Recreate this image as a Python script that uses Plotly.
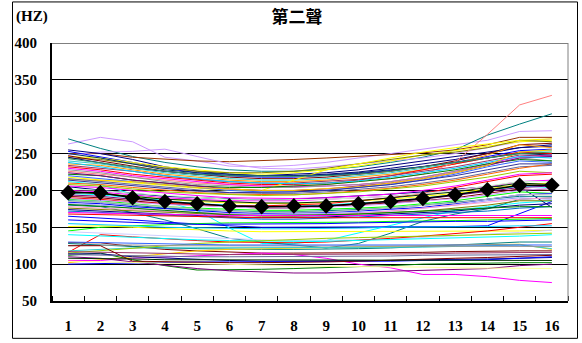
import plotly.graph_objects as go

# Syllable positions (normalised time points) along the tone contour
points = list(range(1, 17))
tick_labels = [str(p) for p in points]

# Mean F0 contour of the second tone (Hz)
mean_f0 = [197, 197, 190, 185, 182, 179, 178, 179, 179, 182, 185, 189, 194, 201, 207, 207]

# Individual speakers, high-pitched voices (Hz)
high_voices = [
    [263, 272, 266, 245, 240, 233, 232, 234, 238, 244, 250, 256, 262, 268, 280, 281],
    [270, 257, 246, 238, 232, 228, 226, 226, 228, 232, 238, 245, 255, 275, 290, 304],
    [250, 250, 245, 242, 240, 239, 240, 242, 244, 246, 248, 251, 255, 262, 272, 272],
    [248, 252, 253, 256, 246, 236, 230, 229, 232, 236, 240, 244, 250, 258, 266, 270],
    [255, 250, 242, 232, 226, 222, 220, 220, 222, 225, 230, 236, 242, 250, 258, 262],
    [253, 246, 238, 230, 224, 220, 218, 218, 220, 223, 227, 232, 238, 246, 254, 256],
    [246, 244, 238, 232, 228, 224, 222, 224, 228, 233, 240, 248, 254, 260, 266, 268],
    [244, 242, 236, 230, 226, 224, 224, 226, 230, 236, 242, 248, 252, 258, 268, 266],
    [247, 240, 232, 226, 222, 218, 216, 216, 218, 222, 226, 232, 240, 250, 262, 264],
    [245, 238, 230, 226, 222, 220, 220, 222, 224, 228, 234, 240, 246, 252, 258, 260],
    [240, 236, 230, 224, 220, 216, 214, 214, 216, 220, 224, 230, 236, 244, 252, 254],
    [236, 234, 228, 222, 218, 214, 212, 212, 214, 218, 222, 228, 236, 248, 262, 258],
    [232, 228, 222, 218, 214, 210, 208, 208, 210, 214, 220, 228, 236, 244, 252, 250],
    [226, 222, 218, 214, 210, 208, 206, 206, 208, 212, 216, 222, 238, 276, 316, 329],
    [230, 226, 220, 216, 212, 208, 206, 205, 206, 208, 212, 218, 226, 236, 246, 248],
    [218, 214, 210, 206, 203, 200, 200, 214, 228, 236, 244, 252, 258, 263, 268, 270],
    [234, 230, 226, 220, 215, 212, 210, 210, 212, 215, 220, 226, 232, 240, 248, 246],
    [228, 224, 218, 212, 208, 206, 204, 204, 206, 208, 212, 218, 226, 234, 244, 240],
    [222, 220, 214, 210, 206, 204, 204, 206, 208, 212, 216, 222, 228, 236, 242, 240],
    [224, 220, 214, 210, 206, 202, 200, 200, 202, 206, 210, 216, 224, 234, 244, 246],
    [238, 232, 226, 220, 216, 212, 210, 209, 210, 213, 218, 224, 230, 238, 246, 244],
    [220, 216, 212, 208, 204, 200, 198, 198, 200, 204, 208, 214, 222, 232, 240, 238],
    [215, 214, 212, 208, 204, 202, 200, 200, 202, 205, 210, 216, 224, 234, 252, 255],
    [250, 244, 236, 228, 224, 222, 220, 220, 221, 224, 228, 232, 238, 244, 250, 248],
    [243, 238, 232, 226, 222, 220, 219, 219, 220, 222, 226, 232, 238, 244, 250, 252],
    [212, 208, 195, 185, 173, 149, 128, 128, 132, 142, 152, 163, 173, 178, 183, 186],
    [216, 212, 208, 204, 200, 197, 196, 196, 198, 201, 205, 210, 216, 224, 232, 234],
    [210, 208, 204, 200, 197, 195, 194, 194, 196, 199, 203, 208, 214, 222, 230, 236],
    [208, 206, 202, 198, 196, 194, 193, 194, 196, 198, 202, 206, 212, 218, 226, 224],
    [214, 210, 206, 202, 199, 197, 197, 198, 200, 204, 208, 214, 220, 228, 236, 236],
]
high_colors = [
    "#CC99FF", "#008080", "#993300", "#CC99FF", "#000080", "#0000FF", "#FFFF00", "#808000",
    "#800000", "#000080", "#33CCCC", "#FF9900", "#FF0000", "#FF8080", "#FF00FF", "#FFFF00",
    "#993366", "#969696", "#008000", "#800080", "#00CCFF", "#3366FF", "#FFCC00", "#003366",
    "#339966", "#00FFFF", "#666699", "#FF6600", "#99CC00", "#333399",
]

# Individual speakers, mid-range voices (Hz)
mid_voices = [
    [180, 178, 170, 160, 148, 135, 130, 126, 122, 128, 142, 158, 168, 175, 188, 190],
    [165, 163, 160, 157, 154, 152, 150, 150, 150, 150, 150, 150, 151, 152, 169, 185],
    [205, 200, 196, 192, 190, 188, 187, 188, 190, 192, 195, 198, 202, 205, 205, 177],
    [200, 198, 194, 190, 188, 186, 186, 186, 188, 190, 192, 196, 200, 205, 212, 214],
    [198, 196, 192, 188, 185, 183, 182, 182, 184, 186, 188, 192, 196, 202, 208, 210],
    [196, 194, 190, 186, 182, 180, 178, 178, 180, 182, 185, 189, 194, 200, 206, 204],
    [194, 192, 188, 184, 181, 179, 178, 178, 179, 181, 184, 188, 193, 198, 204, 206],
    [192, 190, 186, 182, 180, 178, 176, 176, 178, 180, 183, 186, 190, 196, 202, 200],
    [190, 188, 184, 182, 180, 179, 179, 180, 182, 186, 190, 196, 204, 212, 220, 222],
    [188, 186, 182, 178, 176, 174, 173, 173, 174, 176, 178, 182, 186, 192, 198, 196],
    [186, 184, 180, 176, 174, 172, 171, 171, 172, 174, 176, 180, 184, 188, 192, 192],
    [184, 182, 178, 175, 172, 170, 169, 169, 170, 172, 174, 177, 182, 188, 194, 196],
    [182, 180, 176, 172, 170, 168, 167, 167, 168, 170, 172, 176, 180, 186, 190, 188],
    [178, 176, 174, 172, 170, 168, 166, 166, 167, 169, 172, 176, 180, 184, 188, 190],
    [176, 174, 172, 170, 168, 166, 165, 165, 166, 168, 170, 172, 176, 180, 186, 186],
    [174, 172, 170, 168, 166, 164, 163, 163, 164, 166, 168, 170, 172, 176, 180, 182],
    [172, 170, 168, 166, 164, 162, 161, 161, 162, 164, 166, 168, 170, 172, 176, 178],
    [185, 184, 181, 178, 175, 172, 170, 170, 171, 173, 176, 179, 183, 188, 194, 195],
    [181, 178, 176, 173, 170, 167, 166, 166, 167, 168, 170, 172, 174, 176, 178, 178],
    [170, 169, 168, 167, 166, 166, 166, 166, 166, 166, 166, 166, 166, 166, 166, 166],
    [168, 167, 166, 165, 164, 163, 163, 163, 163, 163, 163, 163, 163, 163, 163, 163],
    [202, 200, 196, 193, 190, 188, 187, 187, 188, 190, 192, 196, 200, 206, 212, 212],
    [199, 196, 192, 188, 186, 184, 183, 183, 184, 186, 190, 194, 198, 204, 210, 208],
    [206, 204, 200, 196, 193, 190, 189, 189, 190, 192, 195, 200, 206, 214, 222, 224],
    [189, 187, 184, 181, 179, 177, 176, 176, 177, 179, 182, 185, 189, 194, 200, 203],
]
mid_colors = [
    "#008080", "#0000FF", "#000080", "#FF00FF", "#FFFF00", "#00FFFF", "#800080", "#800000",
    "#FF0000", "#00FF00", "#008080", "#0000FF", "#9999FF", "#FF99CC", "#808000", "#000080",
    "#0066CC", "#C0C0C0", "#008000", "#FF00FF", "#FF0000", "#CCFFCC", "#003300", "#FF00FF",
    "#CC99FF",
]

# Individual speakers, low-pitched voices (Hz)
low_voices = [
    [145, 150, 152, 154, 155, 156, 156, 157, 157, 157, 158, 158, 159, 160, 161, 162],
    [151, 152, 150, 148, 146, 145, 144, 144, 144, 144, 144, 144, 144, 145, 145, 146],
    [144, 142, 140, 138, 136, 134, 133, 132, 132, 133, 134, 136, 138, 140, 143, 146],
    [116, 140, 137, 134, 132, 130, 129, 129, 130, 132, 135, 138, 141, 145, 150, 155],
    [129, 129, 124, 120, 118, 116, 115, 115, 115, 115, 116, 116, 117, 118, 118, 118],
    [128, 126, 124, 122, 121, 120, 120, 120, 120, 121, 122, 124, 126, 128, 130, 130],
    [140, 138, 136, 134, 133, 132, 131, 131, 131, 132, 133, 134, 135, 136, 138, 140],
    [102, 106, 110, 114, 118, 120, 121, 122, 122, 123, 124, 125, 126, 127, 127, 120],
    [118, 120, 122, 122, 122, 122, 122, 122, 122, 122, 122, 123, 124, 125, 126, 121],
    [115, 118, 122, 125, 128, 130, 132, 134, 135, 136, 137, 138, 139, 140, 141, 142],
    [105, 105, 108, 110, 112, 113, 115, 113, 108, 100, 95, 86, 86, 83, 78, 75],
    [112, 115, 106, 98, 92, 92, 93, 94, 95, 96, 98, 100, 101, 101, 102, 102],
    [110, 108, 103, 98, 94, 91, 89, 88, 88, 89, 90, 91, 93, 94, 98, 100],
    [114, 114, 110, 108, 106, 105, 104, 104, 104, 105, 105, 106, 106, 107, 108, 109],
    [100, 101, 102, 102, 103, 103, 103, 103, 104, 104, 104, 105, 105, 106, 108, 110],
    [117, 116, 115, 114, 113, 113, 113, 113, 113, 113, 114, 114, 115, 115, 116, 116],
    [113, 112, 111, 110, 110, 110, 110, 110, 111, 111, 111, 112, 112, 113, 113, 113],
    [104, 103, 102, 101, 100, 99, 98, 98, 97, 97, 96, 96, 95, 95, 94, 94],
    [125, 126, 126, 125, 125, 124, 124, 124, 124, 124, 124, 124, 124, 124, 124, 124],
    [130, 129, 128, 127, 127, 126, 126, 126, 126, 126, 126, 126, 126, 126, 126, 126],
    [125, 125, 104, 103, 102, 102, 102, 102, 103, 104, 105, 107, 108, 109, 110, 112],
    [108, 108, 107, 106, 106, 105, 105, 105, 105, 105, 105, 105, 105, 105, 105, 105],
    [155, 154, 152, 150, 149, 148, 148, 148, 148, 149, 150, 150, 151, 151, 152, 152],
    [160, 158, 156, 155, 154, 154, 154, 155, 155, 156, 157, 158, 158, 158, 159, 160],
]
low_colors = [
    "#00FF00", "#FFFF00", "#CCCCFF", "#FF0000", "#800000", "#008080", "#00FFFF", "#FFCC00",
    "#33CCCC", "#99CC00", "#FF00FF", "#008000", "#800080", "#000080", "#0000FF", "#993366",
    "#666699", "#FFFF99", "#969696", "#3366FF", "#800000", "#003300", "#00CCFF", "#0000FF",
]

fig = go.Figure()

for group, colors in ((high_voices, high_colors), (mid_voices, mid_colors), (low_voices, low_colors)):
    for values, color in zip(group, colors):
        fig.add_trace(go.Scatter(
            x=points, y=values, mode="lines",
            line=dict(color=color, width=1),
            showlegend=False, hoverinfo="skip",
        ))

fig.add_trace(go.Scatter(
    x=points, y=mean_f0, mode="lines+markers",
    line=dict(color="black", width=1.5),
    marker=dict(symbol="diamond", size=12, color="black"),
    showlegend=False,
))

serif = "Liberation Serif, Times New Roman, serif"

fig.update_layout(
    width=582, height=343,
    autosize=False,
    margin=dict(l=52, r=14, t=43, b=42, pad=0, autoexpand=False),
    paper_bgcolor="white", plot_bgcolor="white",
    title=dict(
        text="<b>第二聲</b>",
        font=dict(family="Noto Sans CJK TC", size=17, color="black"),
        x=297 / 582, xref="container", xanchor="center",
        y=1 - 17 / 343, yref="container", yanchor="middle",
    ),
    xaxis=dict(
        range=[0.5, 16.5], tickmode="array", tickvals=points, ticktext=tick_labels,
        ticks="", showgrid=False, zeroline=False, automargin=False,
        showline=True, linecolor="black", linewidth=2,
        tickfont=dict(family=serif, size=15, color="black", weight="bold"),
        ticklabelstandoff=10,
        minor=dict(tick0=0.5, dtick=1, ticks="inside", ticklen=5, tickcolor="black",
                   tickwidth=1, showgrid=False),
    ),
    yaxis=dict(
        range=[50, 400], dtick=50, tick0=50, automargin=False,
        showgrid=True, gridcolor="black", gridwidth=1, zeroline=False,
        showline=True, linecolor="black", linewidth=2, ticks="",
        tickfont=dict(family=serif, size=15, color="black", weight="bold"),
        ticklabelstandoff=10,
    ),
    annotations=[dict(
        text="<b>(HZ)</b>", xref="paper", yref="paper",
        x=(14 - 52) / 516, y=(300.7 - 17) / 257.7, xanchor="left", yanchor="middle",
        showarrow=False, font=dict(family=serif, size=15, color="black"),
    )],
    shapes=[
        dict(type="line", xref="paper", yref="y", x0=0, x1=1, y0=400, y1=400,
             line=dict(color="black", width=1)),
        dict(type="line", xref="paper", yref="paper", x0=1, x1=1, y0=0, y1=1,
             line=dict(color="#808080", width=1)),
        dict(type="rect", xref="paper", yref="paper",
             x0=(12.5 - 52) / 516, x1=(577.5 - 52) / 516,
             y0=(300.7 - 338) / 257.7, y1=(300.7 - 2) / 257.7,
             line=dict(color="black", width=1)),
    ],
)

fig.write_html("out.html")
